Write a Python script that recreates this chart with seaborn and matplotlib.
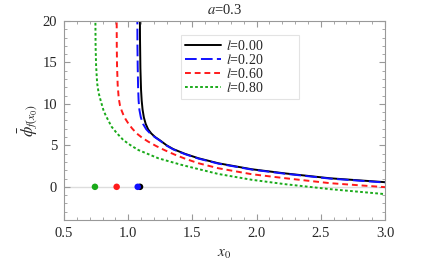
import numpy as np
import pandas as pd
import matplotlib
matplotlib.use("Agg")
import matplotlib.pyplot as plt
import seaborn as sns
from matplotlib.ticker import MultipleLocator, FormatStrFormatter

# data
l_labels = ["0.00", "0.20", "0.60", "0.80"]
x_black = [1.090, 1.092, 1.095, 1.100, 1.105, 1.112, 1.122, 1.136, 1.155, 1.180, 1.210, 1.248, 1.300, 1.351, 1.442, 1.546, 1.702, 1.962, 2.221, 2.572, 3.000]
y_black = [23.0, 17.8, 14.3, 11.7, 10.4, 9.3, 8.37, 7.6, 6.94, 6.43, 6.0, 5.6, 5.00, 4.55, 3.98, 3.45, 2.84, 2.12, 1.62, 1.03, 0.56]
x_blue = [1.071, 1.072, 1.074, 1.077, 1.081, 1.087, 1.098, 1.115, 1.140, 1.172, 1.210, 1.248, 1.300, 1.351, 1.442, 1.546, 1.702, 1.962, 2.221, 2.572, 3.000]
y_blue = [21.0, 17.0, 14.5, 12.0, 10.4, 9.3, 8.4, 7.6, 6.95, 6.42, 5.96, 5.56, 4.96, 4.51, 3.94, 3.41, 2.80, 2.08, 1.58, 0.99, 0.52]
x_red = [0.910, 0.911, 0.913, 0.918, 0.926, 0.936, 0.950, 0.962, 0.980, 1.001, 1.030, 1.066, 1.110, 1.157, 1.220, 1.287, 1.360, 1.442, 1.546, 1.702, 1.962, 2.221, 2.572, 3.000]
y_red = [21.0, 17.0, 14.6, 12.3, 10.7, 9.8, 9.15, 8.7, 8.15, 7.64, 7.05, 6.44, 5.9, 5.44, 4.9, 4.40, 3.9, 3.40, 2.85, 2.24, 1.52, 1.04, 0.44, -0.04]
x_green = [0.744, 0.746, 0.750, 0.758, 0.770, 0.785, 0.806, 0.825, 0.871, 0.910, 0.962, 1.015, 1.079, 1.235, 1.417, 1.520, 1.702, 1.962, 2.221, 2.572, 3.000]
y_green = [21.0, 17.0, 14.6, 12.5, 11.3, 10.44, 9.3, 8.6, 7.24, 6.5, 5.64, 5.05, 4.44, 3.44, 2.64, 2.24, 1.55, 0.85, 0.32, -0.28, -0.88]
pt_x = [0.741, 0.910, 1.074, 1.092]
pt_y = [0.0, 0.0, 0.0, 0.0]

colors = ["black", "#1010ff", "#ff1a1a", "#1aaa1a"]

sns.set_style("ticks")
plt.rcParams["font.family"] = ["Liberation Serif", "DejaVu Serif"]
plt.rcParams["mathtext.fontset"] = "stix"

fig = plt.figure(figsize=(4.25, 2.66), dpi=100)
ax = fig.add_axes([0.1506, 0.173, 0.7553, 0.748])

ax.axhline(0, color="#dddddd", lw=1.0, zorder=0)

series = [(x_black, y_black), (x_blue, y_blue), (x_red, y_red), (x_green, y_green)]
dashes = [None, (6, 2.2), (3.0, 2.0), (1.4, 1.2)]
for i, ((xs, ys), lab) in enumerate(zip(series, l_labels)):
    df = pd.DataFrame({"x": xs, "y": ys})
    sns.lineplot(data=df, x="x", y="y", ax=ax, color=colors[i], lw=1.4,
                 sort=False, estimator=None, label=r"$l$=" + lab)
    if dashes[i] is not None:
        ax.lines[-1].set_dashes(dashes[i])

# points at y = 0 (black first, coloured ones on top)
for j in [3, 2, 1, 0]:
    col = colors[3 - j]
    sns.scatterplot(x=[pt_x[j]], y=[pt_y[j]], ax=ax, color=col, s=22,
                    edgecolor="none", zorder=5, legend=False)

ax.set_xlim(0.5, 3.0)
ax.set_ylim(-4, 20)
ax.xaxis.set_major_locator(MultipleLocator(0.5))
ax.xaxis.set_minor_locator(MultipleLocator(0.1))
ax.yaxis.set_major_locator(MultipleLocator(5))
ax.yaxis.set_minor_locator(MultipleLocator(1))
ax.xaxis.set_major_formatter(FormatStrFormatter("%.1f"))
ax.tick_params(which="both", direction="in", top=True, right=True, color="#999999", labelsize=10.5, pad=5)
ax.tick_params(which="major", length=4, width=0.8)
ax.tick_params(which="minor", length=2, width=0.6)
for sp in ax.spines.values():
    sp.set_color("#999999")
    sp.set_linewidth(0.8)

ax.set_xlabel(r"$x_0$", fontsize=11, labelpad=6)
ax.set_ylabel(r"$\bar{\phi}_{f(x_0)}$", fontsize=12, labelpad=2)
ax.set_title(r"$a$=0.3", fontsize=10.5, pad=5)

leg = ax.legend(loc="upper left", bbox_to_anchor=(0.364, 0.608, 0.368, 0.322),
                mode="expand", fontsize=10,
                frameon=True, fancybox=False, handlelength=2.6, handletextpad=0.35,
                borderpad=0.3, labelspacing=0.0, borderaxespad=0)
leg.get_frame().set_edgecolor("#dddddd")
leg.get_frame().set_linewidth(0.8)

fig.savefig("out.png", dpi=100)
